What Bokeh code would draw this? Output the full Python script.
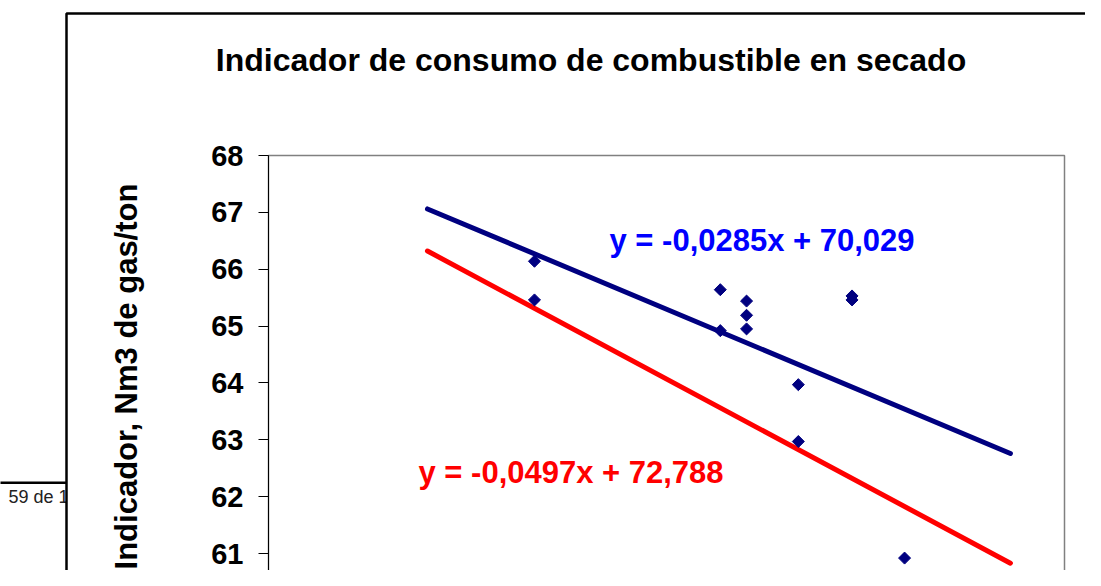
import math
from bokeh.plotting import figure
from bokeh.models import Range1d, FixedTicker, Label, BoxAnnotation, LinearAxis
from bokeh.embed import file_html
from bokeh.resources import INLINE

# ---- data ----
x_vals = [131.9, 131.9, 180.0, 180.0, 186.8, 186.8, 186.8, 200.2, 200.2, 214.1, 214.1, 227.7]
y_vals = [66.14, 65.46, 65.64, 64.92, 65.44, 65.19, 64.95, 63.97, 62.97, 65.53, 65.46, 60.92]
trend_x = [104.2, 255.1]
trend_blue_y = [67.06, 62.76]
trend_red_y = [66.32, 60.83]
y_ticks = [61, 62, 63, 64, 65, 66, 67, 68]
title_text = "Indicador de consumo de combustible en secado"
ylabel_text = "Indicador, Nm3 de gas/ton"
eq_blue = "y = -0,0285x + 70,029"
eq_red = "y = -0,0497x + 72,788"
page_text = "59 de 1"

# ---- geometry (canvas pixels) ----
W, H = 1085, 570
PL, PR, PT = 268, 1064, 155          # plot area left / right / top
X0, X1 = 63.05, 269.1                 # x values at plot-area left / right
Y_TOP = 68.0
PX_PER_Y = 56.86
PX_PER_X = (PR - PL) / (X1 - X0)
BASE_SHIFT = 0.38                      # baseline correction, in em

def xd(px):
    return X0 + (px - PL) / PX_PER_X

def yd(py):
    return Y_TOP - (py - PT) / PX_PER_Y

FONT = "Liberation Sans"

p = figure(width=W, height=H, output_backend="svg", toolbar_location=None,
           x_range=Range1d(xd(0), xd(W)), y_range=Range1d(yd(H), yd(0)),
           x_axis_location=None, y_axis_location=None,
           min_border=0, min_border_left=0, min_border_right=0,
           min_border_top=0, min_border_bottom=0)
p.grid.visible = False
p.outline_line_color = None
p.background_fill_color = "white"
p.border_fill_color = "white"

ax = LinearAxis(fixed_location=X0, bounds=(yd(H + 40), Y_TOP),
                ticker=FixedTicker(ticks=y_ticks))
ax.major_label_text_font = FONT
ax.major_label_text_font_style = "bold"
ax.major_label_text_font_size = "29px"
ax.major_label_text_color = "black"
ax.major_tick_out = 10
ax.major_tick_in = 0
ax.minor_tick_out = 0
ax.minor_tick_in = 0
ax.axis_line_color = "black"
ax.axis_line_width = 1
ax.major_tick_line_color = "black"
ax.major_label_standoff = 15
p.add_layout(ax, "left")

# page decoration (behind the chart box)
p.add_layout(Label(x=xd(8), y=yd(503 - BASE_SHIFT * 18), text=page_text, text_align="left",
                   text_baseline="alphabetic", text_font=FONT, text_font_style="normal",
                   text_font_size="18px", text_color="#222222", level="underlay"))
p.add_layout(BoxAnnotation(left=xd(-20), right=xd(67), top=yd(481), bottom=yd(483.5),
                           fill_color="black", fill_alpha=1, line_color=None,
                           level="underlay"))
# outer chart box (white fill, black border)
p.add_layout(BoxAnnotation(left=xd(66), right=xd(W + 60), top=yd(13), bottom=yd(H + 60),
                           fill_color="white", fill_alpha=1, line_color="black",
                           line_alpha=1, line_width=2.5, level="underlay"))
# plot-area border (grey)
p.add_layout(BoxAnnotation(left=X0, right=X1, top=Y_TOP, bottom=yd(H + 60),
                           fill_color=None, line_color="#808080", line_alpha=1,
                           line_width=1.5, level="underlay"))

# trend lines
p.line(trend_x, trend_blue_y, line_width=5, line_color="#000080", line_cap="round")
p.line(trend_x, trend_red_y, line_width=5, line_color="#FF0000", line_cap="round")

# points
p.scatter(x_vals, y_vals, marker="square", angle=math.pi / 4, size=8.5,
          fill_color="#000080", line_color="#000080")

# texts
p.add_layout(Label(x=xd(590.5), y=yd(71.5 - BASE_SHIFT * 32), text=title_text,
                   text_align="center", text_baseline="alphabetic", text_font=FONT,
                   text_font_style="bold", text_font_size="32px", text_color="black"))
p.add_layout(Label(x=xd(138 - BASE_SHIFT * 31), y=yd(376), text=ylabel_text,
                   angle=math.pi / 2, text_align="center", text_baseline="alphabetic",
                   text_font=FONT, text_font_style="bold", text_font_size="31px",
                   text_color="black"))
p.add_layout(Label(x=xd(609), y=66.305 + BASE_SHIFT * 31 / PX_PER_Y, text=eq_blue,
                   text_align="left", text_baseline="alphabetic", text_font=FONT,
                   text_font_style="bold", text_font_size="31px", text_color="#0000FF"))
p.add_layout(Label(x=xd(418), y=62.22 + BASE_SHIFT * 31 / PX_PER_Y, text=eq_red,
                   text_align="left", text_baseline="alphabetic", text_font=FONT,
                   text_font_style="bold", text_font_size="31px", text_color="#FF0000"))

open("out.html", "w").write(file_html(p, INLINE))
